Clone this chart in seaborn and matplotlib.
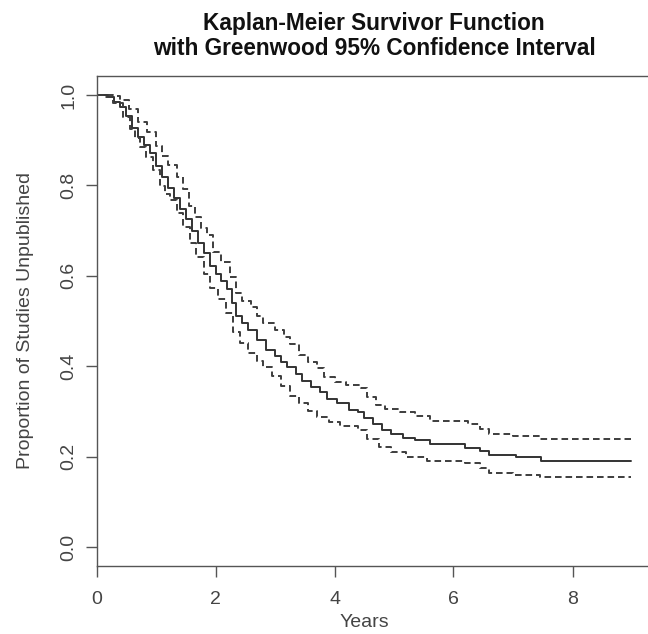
import matplotlib
matplotlib.use("Agg")
import matplotlib.pyplot as plt
import seaborn as sns
import pandas as pd

# ---- data ----
km_time = [0.0, 0.20, 0.30, 0.40, 0.50, 0.60, 0.70, 0.80, 0.90, 1.00, 1.10, 1.20,
           1.30, 1.40, 1.50, 1.60, 1.70, 1.80, 1.90, 2.00, 2.10, 2.20, 2.27, 2.35,
           2.45, 2.55, 2.70, 2.85, 3.00, 3.10, 3.20, 3.35, 3.45, 3.60, 3.75, 3.87,
           4.05, 4.25, 4.40, 4.50, 4.65, 4.80, 4.95, 5.15, 5.35, 5.60, 6.20, 6.45,
           6.60, 7.05, 7.47, 8.98]
km_surv = [1.000, 0.996, 0.985, 0.974, 0.953, 0.928, 0.908, 0.890, 0.871, 0.843, 0.818, 0.795,
           0.773, 0.747, 0.725, 0.700, 0.672, 0.650, 0.622, 0.605, 0.588, 0.570, 0.540, 0.512,
           0.496, 0.480, 0.458, 0.437, 0.422, 0.410, 0.398, 0.383, 0.367, 0.355, 0.343, 0.327,
           0.318, 0.303, 0.298, 0.285, 0.272, 0.258, 0.250, 0.242, 0.236, 0.228, 0.220, 0.212,
           0.204, 0.200, 0.190, 0.190]

upper_time = [0.0, 0.28, 0.40, 0.55, 0.70, 0.85, 1.00, 1.10, 1.20, 1.35, 1.45, 1.55,
              1.65, 1.75, 1.85, 1.95, 2.10, 2.25, 2.35, 2.45, 2.60, 2.70, 2.80, 3.00,
              3.15, 3.25, 3.40, 3.55, 3.70, 3.82, 4.00, 4.20, 4.45, 4.55, 4.70, 4.85,
              5.10, 5.35, 5.60, 6.25, 6.45, 6.60, 7.00, 7.45, 8.98]
upper_surv = [1.000, 0.998, 0.989, 0.968, 0.940, 0.918, 0.888, 0.866, 0.846, 0.819, 0.792, 0.755,
              0.730, 0.705, 0.690, 0.652, 0.630, 0.598, 0.563, 0.545, 0.530, 0.512, 0.495, 0.481,
              0.465, 0.450, 0.424, 0.410, 0.396, 0.376, 0.366, 0.358, 0.352, 0.333, 0.315, 0.305,
              0.298, 0.290, 0.278, 0.272, 0.262, 0.250, 0.246, 0.239, 0.239]

lower_time = [0.0, 0.15, 0.28, 0.45, 0.56, 0.65, 0.73, 0.84, 0.95, 1.06, 1.15, 1.24,
              1.35, 1.46, 1.57, 1.68, 1.80, 1.90, 2.05, 2.18, 2.30, 2.41, 2.55, 2.70,
              2.80, 2.95, 3.10, 3.25, 3.40, 3.55, 3.70, 3.90, 4.10, 4.40, 4.55, 4.75,
              4.95, 5.20, 5.55, 6.20, 6.45, 6.60, 7.00, 7.45, 8.98]
lower_surv = [1.000, 0.996, 0.982, 0.952, 0.924, 0.905, 0.886, 0.863, 0.834, 0.798, 0.782, 0.768,
              0.738, 0.709, 0.672, 0.642, 0.605, 0.572, 0.548, 0.518, 0.475, 0.452, 0.430, 0.412,
              0.399, 0.378, 0.357, 0.335, 0.318, 0.300, 0.288, 0.276, 0.268, 0.258, 0.240, 0.222,
              0.210, 0.200, 0.190, 0.185, 0.174, 0.164, 0.160, 0.155, 0.155]

x_ticks = [0, 2, 4, 6, 8]
y_ticks = [0.0, 0.2, 0.4, 0.6, 0.8, 1.0]
y_tick_labels = ["0.0", "0.2", "0.4", "0.6", "0.8", "1.0"]

title_text = "Kaplan-Meier Survivor Function\nwith Greenwood 95% Confidence Interval"
x_label = "Years"
y_label = "Proportion of Studies Unpublished"

# ---- style ----
sns.set_theme(style="white")
plt.rcParams["font.family"] = ["Liberation Sans", "DejaVu Sans"]

W, H = 648, 634
fig = plt.figure(figsize=(W / 100, H / 100), dpi=100)
ax_left, ax_right, ax_top, ax_bottom = 96.5, 650.0, 75.6, 566.0
ax = fig.add_axes([ax_left / W, 1 - ax_bottom / H,
                   (ax_right - ax_left) / W, (ax_bottom - ax_top) / H])

line_col = "#333333"
df_km = pd.DataFrame({"t": km_time, "s": km_surv})
df_up = pd.DataFrame({"t": upper_time, "s": upper_surv})
df_lo = pd.DataFrame({"t": lower_time, "s": lower_surv})

sns.lineplot(data=df_km, x="t", y="s", ax=ax, estimator=None, sort=False,
             drawstyle="steps-post", color=line_col, lw=1.4)
for d in (df_up, df_lo):
    sns.lineplot(data=d, x="t", y="s", ax=ax, estimator=None, sort=False,
                 drawstyle="steps-post", color="#3d3d3d", lw=1.4,
                 linestyle=(0, (3.4, 2.0)))

ax.set_xlim(0, (ax_right - ax_left) / 59.5)
ax.set_ylim(-0.042, 1.043)

ax.set_xticks(x_ticks)
ax.set_xticklabels([str(v) for v in x_ticks])
ax.set_yticks(y_ticks)
ax.set_yticklabels(y_tick_labels, rotation=90, va="center")

tick_col = "#444444"
ax.tick_params(axis="both", direction="out", length=7.7, width=1.0,
               color="#555555", labelsize=14, labelcolor=tick_col,
               bottom=True, left=True)
ax.tick_params(axis="x", pad=10)
ax.tick_params(axis="y", pad=6)

for side in ("left", "bottom", "top"):
    ax.spines[side].set_visible(True)
    ax.spines[side].set_color("#555555")
    ax.spines[side].set_linewidth(1.0)
ax.spines["right"].set_visible(False)

ax.set_xlabel(x_label, fontsize=14, color=tick_col)
ax.set_ylabel(y_label, fontsize=14, color=tick_col)
ax.xaxis.set_label_coords((364 - ax_left) / (ax_right - ax_left), -0.098)
ax.yaxis.set_label_coords((34 - ax_left) / (ax_right - ax_left), 0.5)

fig.text(374 / W, 1 - 12 / H, title_text, ha="center", va="top",
         fontsize=16.3, fontweight="bold", color="#111111", linespacing=1.1)

fig.savefig("out.png", dpi=100, facecolor="white")
